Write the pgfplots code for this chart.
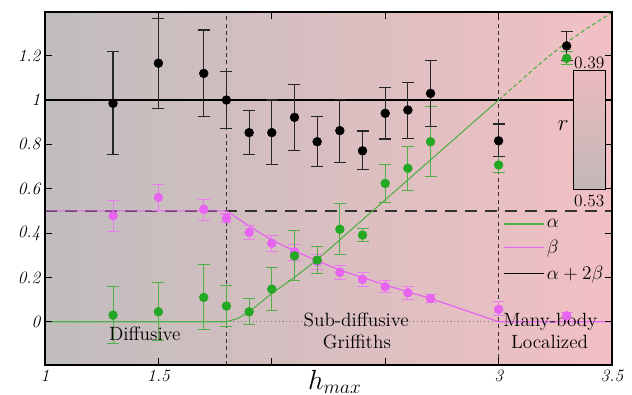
\documentclass[border=0pt]{standalone}
\usepackage{pgfplots}
\pgfplotsset{compat=1.18}
\usepackage{pgfplotstable}
\definecolor{bgL}{RGB}{192,189,189}
\definecolor{bgR}{RGB}{242,192,196}
\definecolor{cgreen}{RGB}{34,168,34}
\definecolor{cgreenl}{RGB}{80,175,70}
\definecolor{cpink}{RGB}{230,100,240}
\definecolor{dgray}{RGB}{50,50,50}

\pgfplotstableread{
x y ep em
1.3 0.985 0.233 0.230
1.5 1.166 0.202 0.205
1.7 1.120 0.196 0.195
1.8 1.000 0.130 0.128
1.9 0.853 0.098 0.100
2.0 0.853 0.147 0.142
2.1 0.922 0.149 0.148
2.2 0.812 0.113 0.113
2.3 0.862 0.141 0.143
2.4 0.771 0.089 0.084
2.5 0.940 0.117 0.116
2.6 0.955 0.125 0.128
2.7 1.030 0.147 0.149
3.0 0.816 0.076 0.072
3.3 1.244 0.064 0.064
}\blackdata

\pgfplotstableread{
x y ep em
1.3 0.030 0.128 0.128
1.5 0.045 0.131 0.128
1.7 0.110 0.147 0.144
1.8 0.071 0.091 0.093
1.9 0.045 0.059 0.057
2.0 0.147 0.098 0.097
2.1 0.297 0.113 0.112
2.2 0.278 0.060 0.060
2.3 0.417 0.116 0.114
2.4 0.391 0.030 0.030
2.5 0.624 0.087 0.085
2.6 0.692 0.100 0.101
2.7 0.812 0.158 0.158
3.0 0.707 0.037 0.033
3.3 1.188 0.030 0.026
}\greendata

\pgfplotstableread{
x y ep em
1.3 0.478 0.071 0.072
1.5 0.561 0.060 0.061
1.7 0.507 0.046 0.052
1.8 0.466 0.020 0.020
1.9 0.403 0.030 0.031
2.0 0.354 0.037 0.038
2.1 0.316 0.034 0.038
2.2 0.271 0.033 0.035
2.3 0.223 0.031 0.032
2.4 0.191 0.032 0.030
2.5 0.158 0.030 0.024
2.6 0.131 0.030 0.029
2.7 0.105 0.020 0.017
3.0 0.056 0.034 0.026
3.3 0.027 0.013 0.012
}\pinkdata

\begin{document}
\begin{tikzpicture}
\useasboundingbox (0,0) rectangle (474pt,295.5pt);
\begin{axis}[
  at={(33.75pt,21.75pt)}, anchor=south west,
  scale only axis, width=425.25pt, height=264.75pt,
  xmin=1, xmax=3.5, ymin=-0.195, ymax=1.397,
  clip=false,
  axis on top,
  axis line style={line width=1.1pt},
  tick style={black, line width=0.7pt},
  major tick length=5pt,
  xtick={1,1.5,2,2.5,3,3.5},
  xticklabels={1,1.5,,,3,3.5},
  ytick={0,0.2,0.4,0.6,0.8,1,1.2},
  yticklabels={0,0.2,0.4,0.6,0.8,1,1.2},
  /pgf/number format/assume math mode=true,
  ticklabel style={font=\fontsize{13}{15}\selectfont\itshape},
  xlabel={$h_{max}$},
  xlabel style={font=\huge, at={(axis description cs:0.511,0)}, anchor=base, yshift=-18pt},
  legend style={at={(axis description cs:0.80,0.43)}, anchor=north west, draw=none, fill=none, font=\Large, row sep=4pt},
  legend cell align=left,
  legend image code/.code={\draw[#1] (0cm,0cm) -- (1.05cm,0cm);},
]
\fill[left color=bgL, right color=bgR] (rel axis cs:0,0) rectangle (rel axis cs:1,1);

% reference lines
\draw[black, line width=0.9pt] (axis cs:1,1) -- (axis cs:3.5,1);
\draw[dgray, line width=1.1pt, dash pattern=on 9pt off 6pt] (axis cs:1,0.5) -- (axis cs:3.5,0.5);
\draw[dgray, line width=0.9pt, dash pattern=on 3pt off 2.5pt] (axis cs:1.8,-0.195) -- (axis cs:1.8,1.397);
\draw[dgray, line width=0.9pt, dash pattern=on 3pt off 2.5pt] (axis cs:3,-0.195) -- (axis cs:3,1.397);
\draw[gray, line width=0.8pt, dotted] (axis cs:1.8,0) -- (axis cs:3,0);

% theory lines
\addplot[cgreenl, line width=0.8pt, forget plot] coordinates {(1,0) (1.8,0) (1.85,0.015) (1.9,0.045) (2.0,0.128) (2.1,0.2) (2.2,0.28) (2.3,0.37) (2.5,0.55) (2.7,0.73) (3.0,1.0)};
\addplot[cgreenl, line width=0.8pt, dash pattern=on 3pt off 2pt, forget plot] coordinates {(3,1) (3.1,1.09) (3.2,1.18) (3.3,1.26) (3.4,1.33) (3.5,1.395)};
\addplot[cpink, line width=0.9pt, forget plot] coordinates {(1,0.5) (1.8,0.5) (1.9,0.432) (2.0,0.368) (2.1,0.32) (2.2,0.275) (2.3,0.233) (2.4,0.2) (2.5,0.166) (2.6,0.135) (2.7,0.105) (2.8,0.07) (2.9,0.035) (3.0,0) (3.5,0)};

% data
\addplot[forget plot, only marks, mark=*, mark size=3.3pt, cpink, mark options={fill=cpink, draw=cpink},
  error bars/.cd, y dir=both, y explicit,
  error bar style={cpink!85!white, line width=0.8pt},
  error mark options={rotate=90, mark size=4.5pt, line width=0.8pt, cpink!85!white}]
  table[x=x, y=y, y error plus=ep, y error minus=em] {\pinkdata};
\addplot[forget plot, only marks, mark=*, mark size=3.3pt, cgreen, mark options={fill=cgreen, draw=cgreen},
  error bars/.cd, y dir=both, y explicit,
  error bar style={cgreenl, line width=0.8pt},
  error mark options={rotate=90, mark size=4.5pt, line width=0.8pt, cgreenl}]
  table[x=x, y=y, y error plus=ep, y error minus=em] {\greendata};
\addplot[forget plot, only marks, mark=*, mark size=3.3pt, black, mark options={fill=black, draw=black},
  error bars/.cd, y dir=both, y explicit,
  error bar style={black!85, line width=0.9pt},
  error mark options={rotate=90, mark size=4.5pt, line width=0.9pt, black!85}]
  table[x=x, y=y, y error plus=ep, y error minus=em] {\blackdata};

% region labels
\node[font=\Large, anchor=base] at (axis cs:1.44,-0.083) {Diffusive};
\node[font=\Large, anchor=base] at (axis cs:2.372,-0.0226) {Sub-diffusive};
\node[font=\Large, anchor=base] at (axis cs:2.375,-0.12) {Griffiths};
\node[font=\Large, anchor=base] at (axis cs:3.228,-0.0226) {Many-body};
\node[font=\Large, anchor=base] at (axis cs:3.225,-0.12) {Localized};

% colorbar
\shade[top color=bgR!97!black, bottom color=bgL!97!red, draw=black, line width=0.6pt] (axis cs:3.33,0.597) rectangle (axis cs:3.47,1.132);
\node[font=\fontsize{13}{15}\selectfont, anchor=base] at (axis cs:3.40,1.140) {0.39};
\node[font=\fontsize{13}{15}\selectfont, anchor=base] at (axis cs:3.40,0.520) {0.53};
\node[font=\LARGE] at (axis cs:3.285,0.887) {$r$};

\addlegendimage{cgreenl, line width=1.2pt}
\addlegendentry{$\alpha$}
\addlegendimage{cpink, line width=1.2pt}
\addlegendentry{$\beta$}
\addlegendimage{black, line width=1.2pt}
\addlegendentry{$\alpha+2\beta$}
\end{axis}
\end{tikzpicture}
\end{document}
